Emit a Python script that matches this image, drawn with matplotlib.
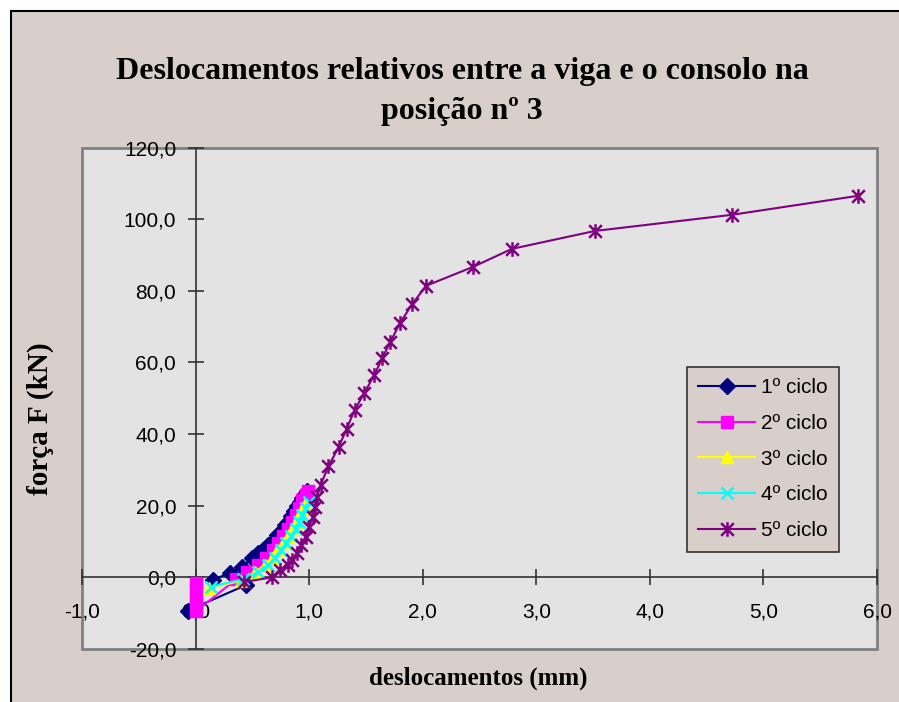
import matplotlib
matplotlib.use("Agg")
import matplotlib.pyplot as plt
from matplotlib.patches import Rectangle
from matplotlib.path import Path
from matplotlib.ticker import FixedLocator, FuncFormatter

# ---------------- data ----------------
title = "Deslocamentos relativos entre a viga e o consolo na\nposição nº 3"
xlabel = "deslocamentos (mm)"
ylabel = "força F (kN)"
series_names = ["1º ciclo", "2º ciclo", "3º ciclo", "4º ciclo", "5º ciclo"]

x1 = [0.15, 0.30, 0.41, 0.50, 0.55, 0.59, 0.64, 0.68, 0.72, 0.76, 0.785, 0.81,
      0.84, 0.87, 0.89, 0.92, 0.94, 0.96, 0.98, 0.44, -0.07]
y1 = [-0.7, 1.2, 2.9, 5.4, 6.7, 7.6, 9.0, 10.1, 11.8, 13.0, 14.5, 15.5,
      17.0, 18.5, 19.8, 21.0, 22.2, 23.2, 24.0, -2.2, -9.3]

x2 = [0.0, 0.0, 0.0, 0.0, 0.0, 0.36, 0.45, 0.55, 0.62, 0.68, 0.73, 0.77, 0.81,
      0.85, 0.88, 0.91, 0.94, 0.97, 0.99]
y2 = [-1.5, -3.5, -5.5, -7.5, -9.5, -0.5, 1.5, 3.5, 5.5, 7.5, 9.5, 11.5, 13.5,
      15.5, 17.5, 19.5, 21.5, 23.0, 24.0]

x3 = [0.12, 0.40, 0.52, 0.61, 0.67, 0.72, 0.77, 0.81, 0.85, 0.88, 0.91, 0.94, 0.96]
y3 = [-3.0, -1.0, 1.5, 3.5, 5.5, 7.5, 9.5, 11.5, 13.5, 15.5, 17.5, 19.0, 20.5]

x4 = [0.14, 0.42, 0.55, 0.64, 0.70, 0.75, 0.80, 0.84, 0.88, 0.91, 0.94, 0.97, 1.00]
y4 = [-2.6, -0.5, 1.5, 3.5, 5.5, 7.5, 9.5, 11.5, 13.5, 15.5, 17.5, 19.5, 21.0]

x5 = [0.43, 0.67, 0.74, 0.81, 0.85, 0.89, 0.93, 0.97, 1.00, 1.03, 1.05, 1.07,
      1.10, 1.17, 1.26, 1.33, 1.40, 1.486, 1.574, 1.645, 1.715, 1.80, 1.91,
      2.03, 2.445, 2.785, 3.516, 4.72, 5.83]
y5 = [-1.3, 0.0, 2.0, 3.5, 4.8, 6.7, 9.0, 11.3, 14.0, 16.8, 19.6, 22.4,
      25.7, 31.0, 36.4, 41.4, 46.7, 51.5, 56.5, 61.3, 65.7, 71.0, 76.4,
      81.4, 86.7, 91.7, 96.7, 101.2, 106.5]

xticks = [-1.0, 0.0, 1.0, 2.0, 3.0, 4.0, 5.0, 6.0]
yticks = [-20.0, 0.0, 20.0, 40.0, 60.0, 80.0, 100.0, 120.0]

# ---------------- styling ----------------
W, H = 899, 702
fig = plt.figure(figsize=(W / 100, H / 100), dpi=100)
fig.patch.set_facecolor("white")

beige = "#D8CFCA"
fig.patches.append(Rectangle((10.5 / W, -0.05), 1.2, 1 - 11 / H + 0.05,
                             transform=fig.transFigure, facecolor=beige,
                             edgecolor="black", linewidth=1.5, zorder=-10))

ax = fig.add_axes([82 / W, 1 - 649 / H, 795 / W, 501.5 / H])
ax.set_zorder(1)
ax.set_facecolor("#E3E3E3")
ax.set_xlim(-1.0, 6.0)
ax.set_ylim(-20.0, 120.0)

for s in ["top", "right"]:
    ax.spines[s].set_visible(False)
ax.spines["left"].set_position(("data", 0))
ax.spines["bottom"].set_position(("data", 0))
for s in ["left", "bottom"]:
    ax.spines[s].set_color("#333333")
    ax.spines[s].set_linewidth(1.2)
ax.add_patch(Rectangle((0, 0), 1, 1, transform=ax.transAxes, fill=False,
                       edgecolor="#808080", linewidth=2, clip_on=False, zorder=0.5))

fmt = FuncFormatter(lambda v, p: f"{v:.1f}".replace(".", ","))
ax.xaxis.set_major_locator(FixedLocator(xticks))
ax.yaxis.set_major_locator(FixedLocator(yticks))
ax.xaxis.set_major_formatter(fmt)
ax.yaxis.set_major_formatter(fmt)
ax.tick_params(axis="both", direction="inout", length=12, width=1.2,
               color="#333333", labelsize=15, labelcolor="black")
ax.tick_params(axis="x", pad=12)
ax.tick_params(axis="y", pad=8)
for lab in ax.get_xticklabels() + ax.get_yticklabels():
    lab.set_fontfamily("Liberation Sans")

asterisk = Path([(-1, -1), (1, 1), (-1, 1), (1, -1), (0, -1.15), (0, 1.15)],
                [Path.MOVETO, Path.LINETO, Path.MOVETO, Path.LINETO,
                 Path.MOVETO, Path.LINETO])

ax.plot(x1, y1, color="#000080", marker="D", markersize=8, lw=1.5,
        label=series_names[0], zorder=3)
ax.plot(x2, y2, color="#FF00FF", marker="s", markersize=9, lw=1.5,
        label=series_names[1], zorder=3)
ax.plot(x3, y3, color="#FFFF00", marker="^", markersize=9, lw=1.5,
        label=series_names[2], zorder=3)
ax.plot(x4, y4, color="#00FFFF", marker="x", markersize=9, mew=1.8, lw=1.5,
        label=series_names[3], zorder=3)
ax.plot(x5, y5, color="#800080", marker=asterisk, markersize=10.5, mew=1.8,
        mfc="none", lw=1.5, label=series_names[4], zorder=3)

leg = ax.legend(loc="upper left", bbox_to_anchor=(687 / W, 1 - 367 / H),
                bbox_transform=fig.transFigure, frameon=True, fancybox=False,
                facecolor=beige, edgecolor="#333333", framealpha=1,
                prop={"family": "Liberation Sans", "size": 15},
                handlelength=2.7, handletextpad=0.3, labelspacing=0.8,
                borderpad=0.55, borderaxespad=0)
leg.get_frame().set_linewidth(1.2)

fig.text(462 / W, 1 - 91 / H, title, ha="center", va="center",
         fontfamily="Liberation Serif", fontweight="bold", fontsize=23,
         linespacing=1.5)
fig.text(478 / W, 1 - 678 / H, xlabel, ha="center", va="center",
         fontfamily="Liberation Serif", fontweight="bold", fontsize=18)
fig.text(40 / W, 1 - 419 / H, ylabel, ha="center", va="center", rotation=90,
         fontfamily="Liberation Serif", fontweight="bold", fontsize=21)

fig.savefig("out.png", dpi=100, facecolor=fig.get_facecolor())
